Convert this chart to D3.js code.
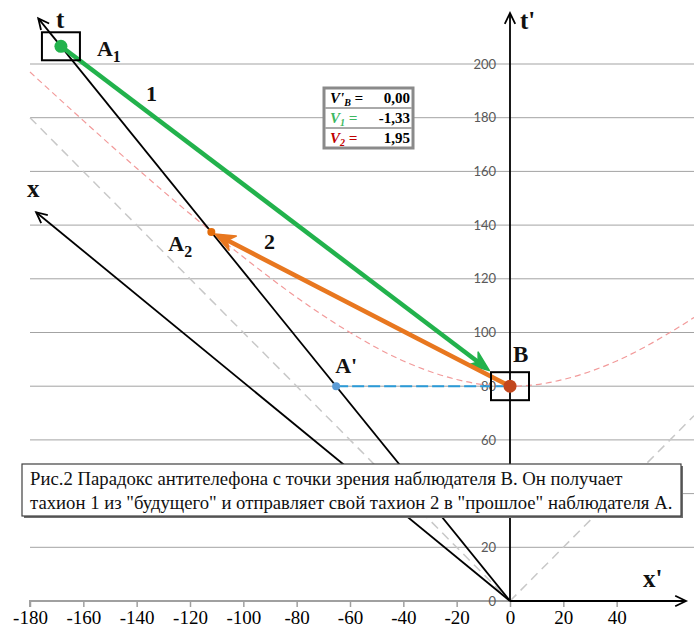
<!DOCTYPE html>
<html><head><meta charset="utf-8">
<script src="https://cdn.jsdelivr.net/npm/d3@7"></script>
<style>body{margin:0;background:#fff}svg{display:block}</style>
</head><body>
<svg id="chart" width="694" height="636"></svg>
<script>
// Axis ticks of B's rest frame (x', t')
const xTicks = [-180,-160,-140,-120,-100,-80,-60,-40,-20,0,20,40];
const tTicks = [0,20,40,60,80,100,120,140,160,180,200];

// Events in B's frame: A1 (tachyon 1 sent), A2 (tachyon 2 received), A' (A simultaneous with B), B
const eventNames = ["A1","A2","A'","B"];
const eventX = [-168.4,-112.0,-65.2,0];
const eventT = [206.6,137.4,80,80];

// A's axes drawn in B's frame (end points)
const tAxisA = [[0,0],[-176.9,217]];
const xAxisA = [[0,0],[-177.7,144.8]];
// light cone
const lightLeft = [[-180,180],[0,0]];
const lightRight = [[0,0],[69,69]];
// invariant hyperbola through B
const hypX = [-180,-160,-140,-120,-100,-80,-60,-40,-20,-10,0,10,20,40,60,69];
const hypT = [197.0,178.9,161.2,144.2,128.1,113.1,100,89.4,82.5,80.6,80,80.6,82.5,89.4,100,105.6];

// velocity table
const tableNames = ["V'", "V", "V"];
const tableSubs = ["B","1","2"];
const tableValues = ["0,00","-1,33","1,95"];
const tableColors = ["#000000","#3cb862","#c00000"];

const captionLines = [
  "Рис.2 Парадокс антителефона с точки зрения наблюдателя В. Он получает",
  "тахион 1 из \"будущего\" и отправляет свой тахион 2 в \"прошлое\" наблюдателя А."
];

const svg = d3.select("#chart");
const x = d3.scaleLinear().domain([-180,0]).range([30,510]);
const y = d3.scaleLinear().domain([0,200]).range([601,64]);
const serif = "'Liberation Serif','Times New Roman',serif";
const ev = i => [x(eventX[i]), y(eventT[i])];

// caption box band (covers the chart beneath it)
const capBox = {x: 22, y: 464, w: 659, h: 52};
const underCaption = d => y(d) > capBox.y - 6 && y(d) < capBox.y + capBox.h + 6;

// horizontal grid
svg.append("g").selectAll("line").data(tTicks.filter(d => d > 0)).join("line")
  .attr("x1", x(-180)).attr("x2", 694)
  .attr("y1", d => y(d)).attr("y2", d => y(d))
  .attr("stroke", "#a3a3a3").attr("stroke-width", 1);

// bottom axis (gray, Excel style)
const gx = svg.append("g").attr("transform", `translate(0,${y(0)})`)
  .call(d3.axisBottom(x).tickValues(xTicks).tickSize(6).tickPadding(4).tickFormat(d => String(d)));
gx.select(".domain").attr("stroke", "#a0a0a0").attr("stroke-width", 2)
  .attr("d", `M${x(-180)},6V0H${x(66)}`);
gx.selectAll(".tick line").attr("stroke", "#a0a0a0").attr("stroke-width", 1.5);
gx.selectAll(".tick text").attr("font-family", serif).attr("font-size", 19).attr("fill", "#000");

// t' tick labels (those hidden by the caption box are left out)
const gy = svg.append("g").attr("transform", `translate(${x(0)},0)`)
  .call(d3.axisLeft(y).tickValues(tTicks.filter(d => !underCaption(d))).tickSize(0).tickPadding(14));
gy.select(".domain").remove();
gy.selectAll(".tick text").attr("font-family", "Lato, 'Open Sans', sans-serif")
  .attr("font-size", 13).attr("fill", "#595959");

const line = d3.line().x(d => x(d[0])).y(d => y(d[1]));

// light cone lines
[lightLeft, lightRight].forEach(p => svg.append("path").attr("d", line(p))
  .attr("fill", "none").attr("stroke", "#c8c8c8").attr("stroke-width", 1.5).attr("stroke-dasharray", "9,6"));

// hyperbola
svg.append("path").datum(d3.zip(hypX, hypT))
  .attr("d", d3.line().x(d => x(d[0])).y(d => y(d[1])).curve(d3.curveMonotoneX))
  .attr("fill", "none").attr("stroke", "#f29a9a").attr("stroke-width", 1.2).attr("stroke-dasharray", "6,4");

// open chevron arrowhead at end of a pixel segment
function chevron(p0, p1, len, ang, color, w) {
  const a = Math.atan2(p1[1]-p0[1], p1[0]-p0[0]);
  const l = [p1[0]-len*Math.cos(a-ang), p1[1]-len*Math.sin(a-ang)];
  const r = [p1[0]-len*Math.cos(a+ang), p1[1]-len*Math.sin(a+ang)];
  svg.append("path").attr("d", `M${l}L${p1}L${r}`).attr("fill", "none")
    .attr("stroke", color).attr("stroke-width", w).attr("stroke-linejoin", "miter");
}
function axisArrow(p, color) {
  const p0 = [x(p[0][0]), y(p[0][1])], p1 = [x(p[1][0]), y(p[1][1])];
  svg.append("line").attr("x1", p0[0]).attr("y1", p0[1]).attr("x2", p1[0]).attr("y2", p1[1])
    .attr("stroke", color).attr("stroke-width", 1.8);
  chevron(p0, p1, 12, 0.45, color, 1.8);
}
// B's axes
axisArrow([[0,0],[0,219]], "#000");
axisArrow([[0,0],[66,0]], "#000");
// A's axes
axisArrow(tAxisA, "#000");
axisArrow(xAxisA, "#000");

// simultaneity line A' -> B
svg.append("line").attr("x1", ev(2)[0]).attr("y1", ev(2)[1]).attr("x2", ev(3)[0]).attr("y2", ev(3)[1])
  .attr("stroke", "#2a9ad8").attr("stroke-width", 2).attr("stroke-dasharray", "12,4");

// tachyon arrows with filled heads
function tachyon(p0, tip, color) {
  const a = Math.atan2(tip[1]-p0[1], tip[0]-p0[0]);
  const len = 20, hw = 8, notch = 14;
  const base = [tip[0]-notch*Math.cos(a), tip[1]-notch*Math.sin(a)];
  svg.append("line").attr("x1", p0[0]).attr("y1", p0[1]).attr("x2", base[0]).attr("y2", base[1])
    .attr("stroke", color).attr("stroke-width", 4.5);
  const bx = tip[0]-len*Math.cos(a), by = tip[1]-len*Math.sin(a);
  const l = [bx + hw*Math.sin(a), by - hw*Math.cos(a)];
  const r = [bx - hw*Math.sin(a), by + hw*Math.cos(a)];
  svg.append("path").attr("d", `M${tip}L${l}L${base}L${r}Z`).attr("fill", color)
    .attr("stroke", color).attr("stroke-width", 1.5).attr("stroke-linejoin", "round");
}
function toward(p, q, dist) {
  const a = Math.atan2(q[1]-p[1], q[0]-p[0]);
  return [p[0]+dist*Math.cos(a), p[1]+dist*Math.sin(a)];
}
// tachyon 1: A1 -> B ; tachyon 2: B -> A2
tachyon(ev(0), toward(ev(3), ev(0), 26), "#22b24c");
tachyon(ev(3), toward(ev(1), ev(3), 4), "#e8771f");

// event dots
const dotR = [6.5, 4, 4, 6.5];
const dotC = ["#22b24c", "#e36c0a", "#5b9bd5", "#c2461c"];
svg.append("g").selectAll("circle").data(eventNames).join("circle")
  .attr("cx", (d, i) => ev(i)[0]).attr("cy", (d, i) => ev(i)[1])
  .attr("r", (d, i) => dotR[i]).attr("fill", (d, i) => dotC[i]);

// frames around A1 and B
[0, 3].forEach(i => svg.append("rect")
  .attr("x", ev(i)[0]-19).attr("y", ev(i)[1]-14).attr("width", 38).attr("height", 28)
  .attr("fill", "none").attr("stroke", "#000").attr("stroke-width", 2));

// text labels
function label(px, py, main, sub, size) {
  const t = svg.append("text").attr("x", px).attr("y", py).attr("font-family", serif)
    .attr("font-weight", "bold").attr("font-size", size).attr("fill", "#111");
  t.append("tspan").text(main);
  if (sub) t.append("tspan").attr("dy", size*0.25).attr("font-size", size*0.72).text(sub);
  return t;
}
label(ev(0)[0]+36, ev(0)[1]+10, "A", "1", 22);
label(ev(1)[0]-43, ev(1)[1]+19, "A", "2", 22);
label(ev(2)[0]-1, ev(2)[1]-13, "A'", null, 22);
label(ev(3)[0]+3, ev(3)[1]-24, "B", null, 23);
label(146, 101, "1", null, 22);
label(264, 249, "2", null, 22);
label(56, 28, "t", null, 25);
label(27, 197, "x", null, 25);
label(x(0)+10, 29, "t'", null, 25);
label(643, 587, "x'", null, 25);

// velocity table
const tb = svg.append("g").attr("transform", "translate(324,88)");
tb.append("rect").attr("width", 89).attr("height", 60).attr("fill", "#fff")
  .attr("stroke", "#8a8a8a").attr("stroke-width", 3);
[20, 40].forEach(yy => tb.append("line").attr("x1", 1.5).attr("x2", 87.5).attr("y1", yy).attr("y2", yy)
  .attr("stroke", "#555").attr("stroke-width", 1));
tableValues.forEach((v, i) => {
  const t = tb.append("text").attr("x", 6).attr("y", i*20+15).attr("font-family", serif)
    .attr("font-weight", "bold").attr("font-size", 15).attr("fill", tableColors[i]).attr("font-style", "italic");
  t.append("tspan").text(tableNames[i]);
  t.append("tspan").attr("dy", 3).attr("font-size", 10).text(tableSubs[i]);
  t.append("tspan").attr("dy", -3).text(i === 0 ? " =" : " =");
  tb.append("text").attr("x", 86).attr("y", i*20+15).attr("text-anchor", "end")
    .attr("font-family", serif).attr("font-weight", "bold").attr("font-size", 15).attr("fill", "#000").text(v);
});

// caption box
const cap = svg.append("g");
cap.append("rect").attr("x", capBox.x + 2).attr("y", capBox.y + 2).attr("width", capBox.w).attr("height", capBox.h)
  .attr("fill", "#6e6e6e");
cap.append("rect").attr("x", capBox.x).attr("y", capBox.y).attr("width", capBox.w).attr("height", capBox.h)
  .attr("fill", "#fff").attr("stroke", "#404040").attr("stroke-width", 1.2);
const capText = cap.selectAll("text").data(captionLines).join("text")
  .attr("x", capBox.x + 8).attr("y", (d, i) => capBox.y + 21 + i*24)
  .attr("font-family", serif).attr("font-size", 18).attr("fill", "#111").text(d => d);
// fit the caption width to the box
const w2 = capText.nodes()[1].getComputedTextLength();
capText.attr("font-size", 18 * 643 / w2);
</script>
</body></html>
